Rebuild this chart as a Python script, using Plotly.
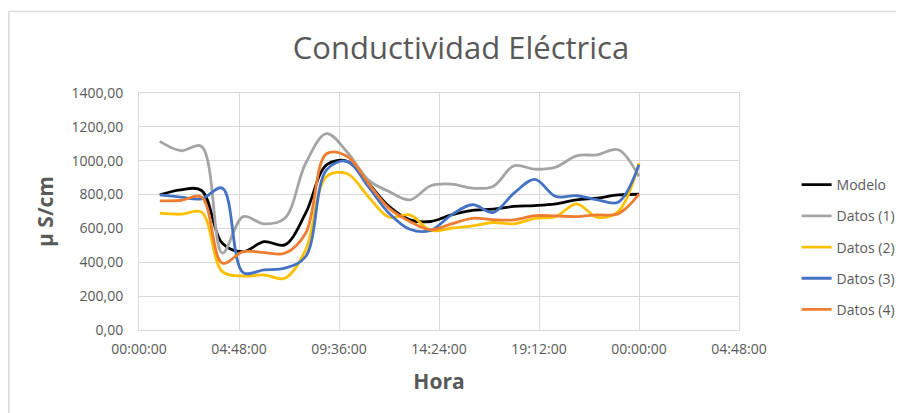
import datetime as dt
import plotly.graph_objects as go

# ---- data ----
hours = list(range(1, 25))
modelo = [798, 828, 824, 512, 463, 522, 503, 690, 976, 996, 868, 730, 651, 641, 680, 706, 714, 730, 735, 745, 769, 779, 798, 802]
datos1 = [1114, 1059, 1084, 454, 670, 627, 660, 985, 1160, 1050, 887, 818, 769, 852, 862, 838, 848, 970, 950, 962, 1029, 1035, 1065, 907]
datos2 = [690, 684, 696, 345, 319, 325, 306, 473, 907, 923, 789, 666, 680, 588, 601, 615, 635, 627, 660, 670, 745, 666, 700, 986]
datos3 = [798, 785, 775, 838, 339, 355, 365, 434, 946, 996, 848, 690, 595, 588, 680, 740, 694, 808, 890, 789, 793, 769, 755, 976]
datos4 = [763, 765, 785, 395, 463, 457, 453, 572, 1041, 1025, 868, 720, 641, 592, 627, 660, 651, 651, 675, 674, 670, 680, 686, 802]

series_names = ["Modelo", "Datos (1)", "Datos (2)", "Datos (3)", "Datos (4)"]
series_values = [modelo, datos1, datos2, datos3, datos4]
series_colors = ["#000000", "#A5A5A5", "#FFC000", "#4472C4", "#ED7D31"]

base = dt.datetime(2024, 1, 1)
times = [base + dt.timedelta(hours=h) for h in hours]

FONT = "Open Sans"
GREY = "#595959"
GRID = "#D9D9D9"

# page has an 8px body margin, so the figure is drawn 8px smaller
W, H = 896, 405
L, T, PW, PH = 131, 85, 600, 237

fig = go.Figure()
for i, (name, vals, col) in enumerate(zip(series_names, series_values, series_colors)):
    fig.add_trace(go.Scatter(
        x=times, y=vals, name=name, mode="lines",
        line=dict(color=col, width=2.8, shape="spline", smoothing=1),
        legendgroup=f"g{i}",
    ))

x_start = base
x_end = base + dt.timedelta(hours=28.8)

fig.update_layout(
    width=W, height=H,
    margin=dict(l=L, r=W - L - PW, t=T, b=H - T - PH, autoexpand=False),
    paper_bgcolor="white", plot_bgcolor="white",
    separators=", ",
    font=dict(family=FONT, color=GREY, size=14),
    title=dict(text="Conductividad Eléctrica", x=453 / W, xanchor="center",
               y=1 - 40 / H, yanchor="middle",
               font=dict(family=FONT, size=31, color=GREY)),
    showlegend=True,
    legend=dict(x=1.096, xanchor="left", y=0.35, yanchor="middle",
                font=dict(family=FONT, size=14, color=GREY),
                tracegroupgap=10, traceorder="grouped", bgcolor="rgba(0,0,0,0)"),
    xaxis=dict(
        type="date", range=[x_start, x_end], automargin=False,
        tick0=x_start, dtick=4.8 * 3600 * 1000, tickformat="%H:%M:%S",
        showgrid=True, gridcolor=GRID, gridwidth=1,
        showline=True, linecolor=GRID, linewidth=1, mirror=True,
        ticks="", ticklabelstandoff=6,
        tickfont=dict(family=FONT, size=14, color=GREY),
        title=dict(text="<b>Hora</b>", font=dict(family=FONT, size=21, color=GREY), standoff=17),
        zeroline=False,
    ),
    yaxis=dict(
        range=[0, 1400], dtick=200, tick0=0, tickformat=".2f", automargin=False,
        showgrid=True, gridcolor=GRID, gridwidth=1,
        showline=True, linecolor=GRID, linewidth=1, mirror=True,
        ticks="", ticklabelstandoff=12,
        tickfont=dict(family=FONT, size=14, color=GREY),
        title=dict(text="<b>µ S/cm</b>", font=dict(family=FONT, size=21, color=GREY), standoff=12),
        zeroline=False,
    ),
    shapes=[
        dict(type="line", xref="paper", yref="paper",
             x0=(0.5 - L) / PW, x1=(W + 5 - L) / PW,
             y0=(T + PH - 3.5) / PH, y1=(T + PH - 3.5) / PH,
             line=dict(color=GRID, width=1.5)),
        dict(type="line", xref="paper", yref="paper",
             x0=(0.8 - L) / PW, x1=(0.8 - L) / PW,
             y0=(T + PH - 3.5) / PH, y1=(T + PH - H - 10) / PH,
             line=dict(color=GRID, width=1.5)),
    ],
)

fig.write_html("out.html")
